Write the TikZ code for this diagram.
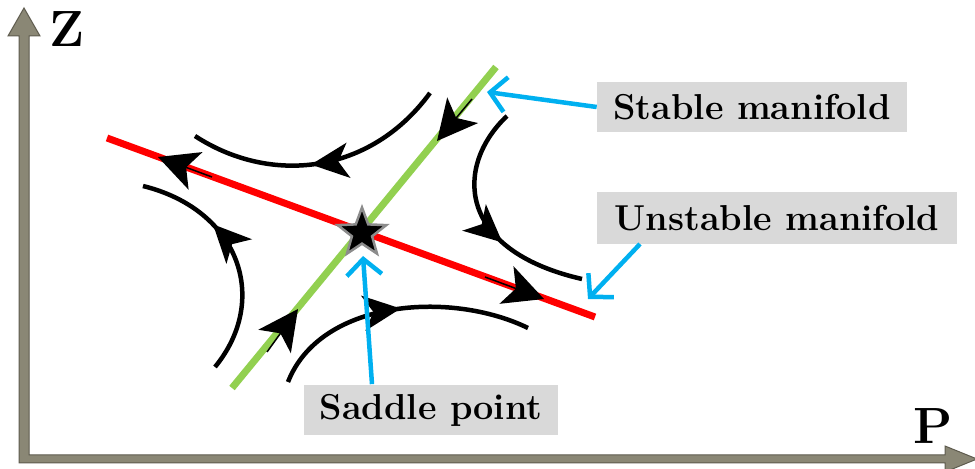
\documentclass[tikz,border=0pt]{standalone}
\usetikzlibrary{arrows.meta,decorations.markings,shapes.geometric}
\definecolor{axisfill}{HTML}{8A8775}
\definecolor{axisline}{HTML}{5E5B4E}
\definecolor{unstred}{HTML}{FF0000}
\definecolor{stabgreen}{HTML}{92D050}
\definecolor{pointblue}{HTML}{00B0F0}
\definecolor{boxgray}{HTML}{D9D9D9}
\begin{document}
\begin{tikzpicture}[x=0.02cm,y=-0.02cm,
    flow/.style={line width=0.09cm},
    manifold/.style={line width=0.14cm},
    lbl/.style={fill=boxgray,font=\fontsize{20.5}{23}\selectfont\bfseries,minimum height=1cm,inner sep=0pt},
    axislbl/.style={font=\fontsize{29}{32}\selectfont\bfseries},
    pointer/.style={draw=pointblue,line width=0.09cm,-{Straight Barb[length=0.32cm,width=0.7cm]}},
    dirtip/.style={line width=0.03cm,-{Stealth[length=0.8cm,width=0.8cm,inset=0.2cm]}},
    flowarrow/.style={postaction={decorate},decoration={markings,mark=at position #1 with {\arrow{Stealth[length=0.75cm,width=0.7cm,inset=0.2cm]}}}}]
  \useasboundingbox (0,0) rectangle (975,469);
  % axes
  \fill[axisfill,draw=axisline,line width=0.02cm]
    (19,463)--(19,36)--(8,36)--(24,8)--(40,36)--(29,36)--(29,455)
    --(945,455)--(945,446)--(977,459)--(945,472)--(945,463)--cycle;
  \node[axislbl] (zlabel) at (67,29) {Z};
  \node[axislbl] (plabel) at (933,426) {P};
  % manifolds
  \coordinate (redA) at (107,138);
  \coordinate (redB) at (595,317);
  \coordinate (greenA) at (232,388);
  \coordinate (greenB) at (496,67);
  \draw[manifold,unstred] (redA) -- (redB);
  \draw[manifold,stabgreen] (greenA) -- (greenB);
  % trajectories
  \draw[flow,flowarrow=0.54] (430,93) .. controls (370,175) and (270,185) .. (195,136);
  \draw[flow,flowarrow=0.62] (507,116) .. controls (455,165) and (455,250) .. (582,279);
  \draw[flow,flowarrow=0.66] (215,367) .. controls (270,300) and (240,210) .. (143,186);
  \draw[flow,flowarrow=0.52] (288,382) .. controls (320,300) and (450,290) .. (528,328);
  % directions on the manifolds
  \draw[dirtip] (212,177) -- (158,157);
  \draw[dirtip] (485,277) -- (544,299);
  \draw[dirtip] (472,99) -- (437,141);
  \draw[dirtip] (267,352) -- (298,309);
  % saddle
  \node[star,star points=5,star point ratio=2.4,minimum size=1.02cm,inner sep=0pt,fill=black,draw=black!45,line width=0.05cm] (saddle) at (362,233) {};
  % labels
  \node[lbl,minimum width=6.2cm] (stablbl) at (752,107) {Stable manifold};
  \node[lbl,minimum width=7.22cm,minimum height=1.04cm] (unstlbl) at (777,218) {Unstable manifold};
  \node[lbl,minimum width=5.08cm,minimum height=1.02cm] (saddlelbl) at (431,410) {Saddle point};
  \coordinate (stabtip) at (487,92);
  \coordinate (unsttip) at (588,299);
  \coordinate (saddletip) at (363,256);
  \draw[pointer] (stablbl.west) -- (stabtip);
  \draw[pointer] (640,244) -- (unsttip);
  \draw[pointer] (saddlelbl.north-|372,0) -- (saddletip);
\end{tikzpicture}
\end{document}
